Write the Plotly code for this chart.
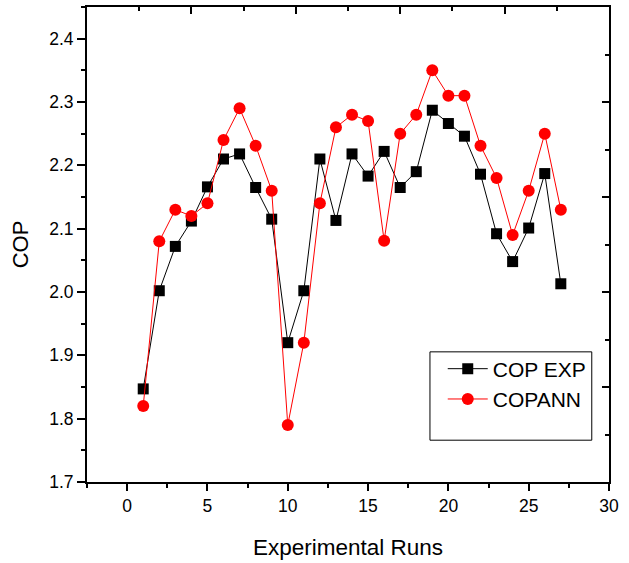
import plotly.graph_objects as go

runs = list(range(1, 28))
cop_exp = [1.847, 2.002, 2.072, 2.112, 2.166, 2.210, 2.218, 2.165, 2.115, 1.920,
           2.002, 2.210, 2.113, 2.218, 2.183, 2.222, 2.165, 2.190, 2.287, 2.266,
           2.246, 2.186, 2.092, 2.048, 2.101, 2.187, 2.013]
cop_ann = [1.820, 2.080, 2.130, 2.120, 2.140, 2.240, 2.290, 2.231, 2.160, 1.790,
           1.920, 2.140, 2.260, 2.280, 2.270, 2.081, 2.250, 2.280, 2.350, 2.310,
           2.310, 2.231, 2.180, 2.090, 2.160, 2.250, 2.130]

FONT = "Liberation Sans, Arial, sans-serif"

fig = go.Figure()
fig.add_trace(go.Scatter(x=runs, y=cop_exp, name="COP EXP", mode="lines+markers",
                         line=dict(color="black", width=1),
                         marker=dict(symbol="square", size=11, color="black")))
fig.add_trace(go.Scatter(x=runs, y=cop_ann, name="COPANN", mode="lines+markers",
                         line=dict(color="#ff0000", width=1),
                         marker=dict(symbol="circle", size=12, color="#ff0000")))
# invisible trace to create top/right frame axes
fig.add_trace(go.Scatter(x=[2.5], y=[2.5], xaxis="x2", yaxis="y2", mode="markers",
                         marker=dict(opacity=0), showlegend=False, hoverinfo="skip"))

fig.update_layout(
    width=629, height=563,
    margin=dict(l=87, r=20, t=7, b=81, autoexpand=False),
    paper_bgcolor="white", plot_bgcolor="white",
    font=dict(family=FONT, color="black", size=17),
    showlegend=True,
    legend=dict(x=0.6815, y=0.281, xanchor="left", yanchor="top",
                font=dict(family=FONT, size=21, color="black"),
                bgcolor="rgba(0,0,0,0)", borderwidth=0, tracegroupgap=0,
                itemwidth=40),
    xaxis=dict(range=[-2.5, 30], tickvals=[0, 5, 10, 15, 20, 25, 30],
               ticks="outside", ticklen=7, tickwidth=1.5, tickcolor="black",
               minor=dict(dtick=2.5, tick0=0, ticks="outside", ticklen=4, tickwidth=1.5, tickcolor="black"),
               showline=True, linecolor="black", linewidth=2, showgrid=False, zeroline=False,
               automargin=False,
               title=dict(text="Experimental Runs", font=dict(size=22.5, family=FONT), standoff=24),
               tickfont=dict(size=17.5)),
    yaxis=dict(range=[1.7, 2.45], tickvals=[1.7, 1.8, 1.9, 2.0, 2.1, 2.2, 2.3, 2.4],
               ticktext=["1.7", "1.8", "1.9", "2.0", "2.1", "2.2", "2.3", "2.4"],
               ticks="outside", ticklen=8, tickwidth=1.5, tickcolor="black",
               minor=dict(dtick=0.05, tick0=1.7, ticks="outside", ticklen=4, tickwidth=1.5, tickcolor="black"),
               showline=True, linecolor="black", linewidth=2, showgrid=False, zeroline=False,
               automargin=False,
               title=dict(text="COP", font=dict(size=22, family=FONT), standoff=14),
               tickfont=dict(size=17.5)),
    xaxis2=dict(overlaying="x", side="top", range=[0, 5], tickvals=[1, 2, 3, 4],
                ticks="inside", ticklen=7, tickwidth=1.5, tickcolor="black",
                minor=dict(dtick=0.5, tick0=0, ticks="inside", ticklen=4, tickwidth=1.5, tickcolor="black"),
                showticklabels=False, showline=True, linecolor="black", linewidth=2,
                showgrid=False, zeroline=False, automargin=False),
    yaxis2=dict(overlaying="y", side="right", range=[0, 5], tickvals=[1, 2, 3, 4],
                ticks="inside", ticklen=7, tickwidth=1.5, tickcolor="black",
                minor=dict(dtick=0.5, tick0=0, ticks="inside", ticklen=4, tickwidth=1.5, tickcolor="black"),
                showticklabels=False, showline=True, linecolor="black", linewidth=2,
                showgrid=False, zeroline=False, automargin=False),
    shapes=[dict(type="rect", xref="paper", yref="paper",
                 x0=0.657, x1=0.967, y0=0.088, y1=0.274,
                 line=dict(color="black", width=1), fillcolor="rgba(0,0,0,0)")],
)

fig.write_html("out.html", config={"displayModeBar": False},
               post_script="document.body.style.margin='0';document.body.style.padding='0';")
